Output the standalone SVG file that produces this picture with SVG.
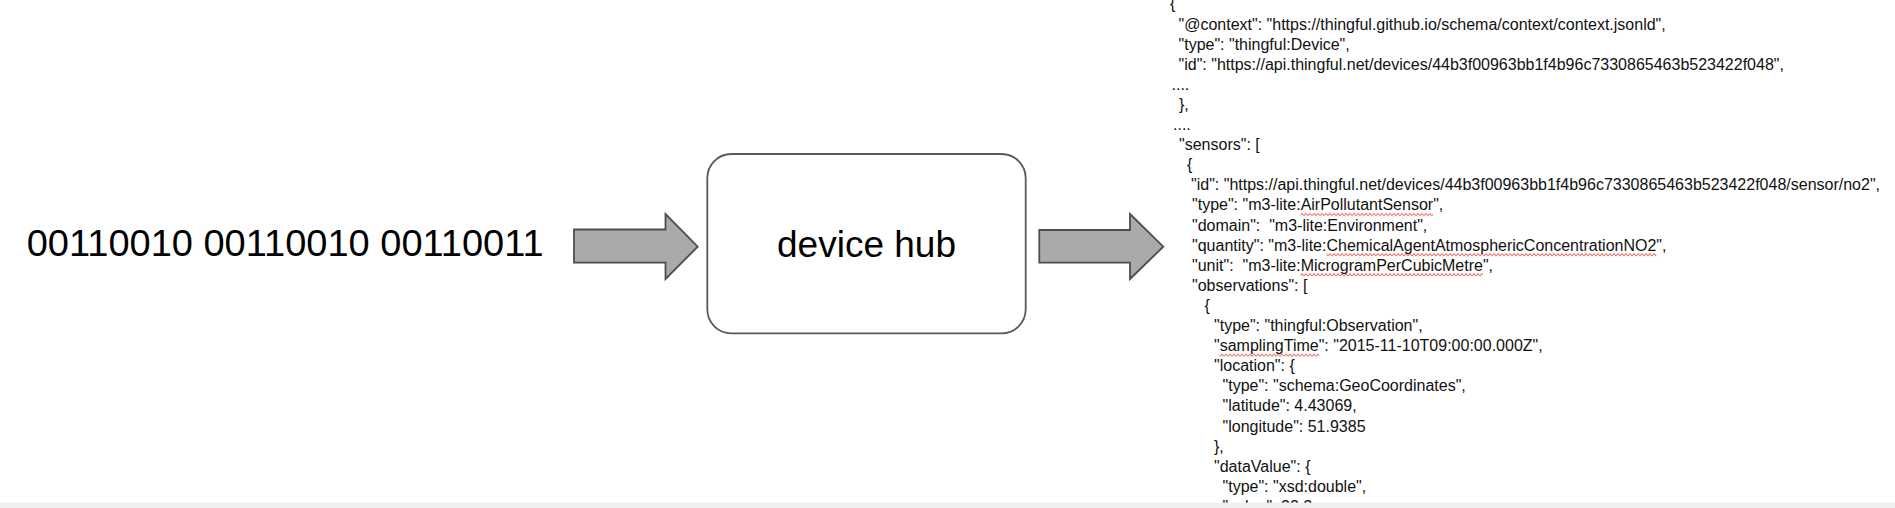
<svg xmlns="http://www.w3.org/2000/svg" width="1895" height="508" viewBox="0 0 1895 508">
  <style>
    .big { font-family: "Liberation Sans", Arial, sans-serif; font-size: 37px; fill: #000; }
    .json { font-family: "Liberation Sans", Arial, sans-serif; font-size: 16px; fill: #111; white-space: pre; }
    .arrow { fill: #aaaaaa; stroke: #4d4d4d; stroke-width: 1.8; stroke-linejoin: miter; }
    .box { fill: #ffffff; stroke: #595959; stroke-width: 1.8; }
    .squig { fill: url(#squiggle); }
  </style>
  <defs>
    <pattern id="squiggle" patternUnits="userSpaceOnUse" x="0" y="0" width="4" height="4">
      <path d="M0,3.3 L2,0.7 L4,3.3" fill="none" stroke="#e0201a" stroke-width="0.8"/>
    </pattern>
  </defs>

  <rect x="0" y="0" width="1895" height="508" fill="#ffffff"/>

  <g id="binary-input">
    <text class="big" x="26.7" y="256" textLength="517" lengthAdjust="spacingAndGlyphs">00110010 00110010 00110011</text>
  </g>

  <g id="device-hub">
    <rect class="box" x="707.3" y="154" width="318.4" height="179.3" rx="24" ry="24"/>
    <text class="big" x="866.5" y="257.3" text-anchor="middle">device hub</text>
  </g>

  <g id="json-output">
    <text class="json" x="1170" y="9.4">{</text>
    <text class="json" x="1178.5" y="29.5">"@context": "https://thingful.github.io/schema/context/context.jsonld",</text>
    <text class="json" x="1178.5" y="49.6">"type": "thingful:Device",</text>
    <text class="json" x="1178.5" y="69.7">"id": "https://api.thingful.net/devices/44b3f00963bb1f4b96c7330865463b523422f048",</text>
    <text class="json" x="1171.5" y="89.8">....</text>
    <text class="json" x="1179" y="109.9">},</text>
    <text class="json" x="1173" y="130">....</text>
    <text class="json" x="1179" y="150.1">"sensors": [</text>
    <text class="json" x="1187" y="170.2">{</text>
    <text class="json" x="1191" y="190.3">"id": "https://api.thingful.net/devices/44b3f00963bb1f4b96c7330865463b523422f048/sensor/no2",</text>
    <text class="json" x="1192" y="210.4">"type": "m3-lite:AirPollutantSensor",</text>
    <text class="json" x="1192" y="230.5">"domain":  "m3-lite:Environment",</text>
    <text class="json" x="1192" y="250.6">"quantity": "m3-lite:ChemicalAgentAtmosphericConcentrationNO2",</text>
    <text class="json" x="1192" y="270.7">"unit":  "m3-lite:MicrogramPerCubicMetre",</text>
    <text class="json" x="1192" y="290.8">"observations": [</text>
    <text class="json" x="1204.5" y="310.9">{</text>
    <text class="json" x="1214" y="331">"type": "thingful:Observation",</text>
    <text class="json" x="1214" y="351.1">"samplingTime": "2015-11-10T09:00:00.000Z",</text>
    <text class="json" x="1214" y="371.2">"location": {</text>
    <text class="json" x="1222.5" y="391.3">"type": "schema:GeoCoordinates",</text>
    <text class="json" x="1222.5" y="411.4">"latitude": 4.43069,</text>
    <text class="json" x="1222.5" y="431.5">"longitude": 51.9385</text>
    <text class="json" x="1214" y="451.6">},</text>
    <text class="json" x="1214" y="471.7">"dataValue": {</text>
    <text class="json" x="1222.5" y="491.8">"type": "xsd:double",</text>
    <text class="json" x="1222.5" y="511.9">"value": 22.2</text>

    <g transform="translate(0,212.6)"><rect class="squig" x="1300.6" y="0" width="132.5" height="4"/></g>
    <g transform="translate(0,252.8)"><rect class="squig" x="1326.4" y="0" width="329.9" height="4"/></g>
    <g transform="translate(0,272.9)"><rect class="squig" x="1300.6" y="0" width="182.2" height="4"/></g>
    <g transform="translate(0,353.3)"><rect class="squig" x="1219.7" y="0" width="99.6" height="4"/></g>
  </g>

  <g id="connectors">
    <polygon class="arrow" points="574,229.5 665.5,229.5 665.5,214 697.7,246.7 665.5,279 665.5,262.7 574,262.7"/>
    <polygon class="arrow" points="1039.3,230 1130,230 1130,214 1163.3,246.7 1130,279 1130,262.7 1039.3,262.7"/>
  </g>

  <rect x="0" y="502.7" width="1895" height="5.3" fill="#f0efed"/>
</svg>
